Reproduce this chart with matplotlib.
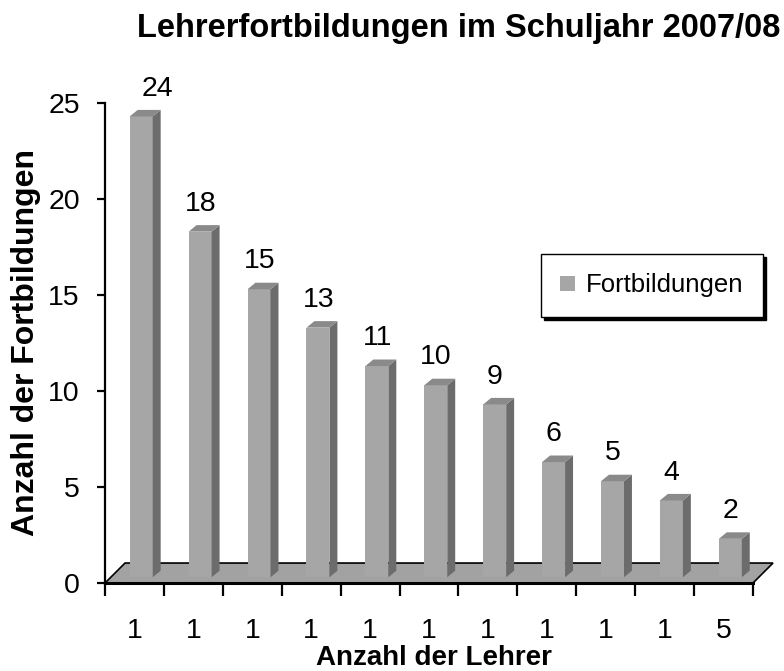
import matplotlib
matplotlib.use('Agg')
import matplotlib.pyplot as plt
from matplotlib.patches import Polygon

plt.rcParams['font.family'] = ['Liberation Sans', 'DejaVu Sans']

# Daten
lehrer = ['1', '1', '1', '1', '1', '1', '1', '1', '1', '1', '5']
fortbildungen = [24, 18, 15, 13, 11, 10, 9, 6, 5, 4, 2]
label_dx = [0.89, 0.62, 0.62, 0.62, 0.62, 0.62, 0.62, 0.62, 0.62, 0.62, 0.62]

front = '#a6a6a6'
side = '#6c6c6c'
top = '#8a8a8a'

fig = plt.figure(figsize=(7.84, 6.71), dpi=100)
ax = fig.add_axes([105/784, 1 - 583/671, 648/784, 480/671])
ax.set_xlim(0, 11)
ax.set_ylim(0, 25)

# Boden (3D-Effekt)
fdx, fdy = 0.34, 1.04
floor = Polygon([(0, 0), (11, 0), (11 + fdx, fdy), (fdx, fdy)], closed=True,
                facecolor='#a2a2a2', edgecolor='black', linewidth=1.2,
                clip_on=False, zorder=1)
ax.add_patch(floor)

# Balken
n = len(fortbildungen)
x0 = [i + 0.42 for i in range(n)]
w = 0.39
base = 0.3
dx, dy = 0.135, 0.34
bars = ax.bar(x0, fortbildungen, width=w, bottom=base, align='edge',
              color=front, edgecolor='none', zorder=3, label='Fortbildungen')
for xi, v in zip(x0, fortbildungen):
    t = base + v
    ax.add_patch(Polygon([(xi + w, base), (xi + w + dx, base + dy),
                          (xi + w + dx, t + dy), (xi + w, t)],
                         facecolor=side, edgecolor='none', zorder=3))
    ax.add_patch(Polygon([(xi, t), (xi + dx, t + dy), (xi + w + dx, t + dy),
                          (xi + w, t)],
                         facecolor=top, edgecolor='none', zorder=3))

# Werte über den Balken
for i, v in enumerate(fortbildungen):
    ax.text(i + label_dx[i], v + 1.75, str(v), ha='center', va='center',
            fontsize=20.5, zorder=5)

# Achsen
for s in ['top', 'right']:
    ax.spines[s].set_visible(False)
ax.spines['left'].set_linewidth(1.6)
ax.spines['bottom'].set_linewidth(2.2)
ax.spines['bottom'].set_zorder(2)
ax.set_yticks(range(0, 26, 5))
ax.tick_params(axis='y', length=6, width=1.6, pad=12, labelsize=20.5)
ax.set_xticks(range(0, 12))
ax.set_xticklabels([])
ax.tick_params(axis='x', which='major', length=9, width=1.6)
ax.set_xticks([i + 0.5 for i in range(n)], minor=True)
ax.set_xticklabels(lehrer, minor=True)
ax.tick_params(axis='x', which='minor', length=0, pad=25, labelsize=20.5)

ax.set_ylabel('Anzahl der Fortbildungen', fontsize=23, fontweight='bold',
              va='center')
ax.yaxis.set_label_coords(-0.122, 0.5)
ax.set_xlabel('Anzahl der Lehrer', fontsize=20, fontweight='bold', va='center')
ax.xaxis.set_label_coords(0.508, -0.156)

fig.text(0.585, 0.957, 'Lehrerfortbildungen im Schuljahr 2007/08',
         ha='center', va='center', fontsize=23.5, fontweight='bold')

leg = ax.legend(handles=[bars], loc='upper left', bbox_to_anchor=(0.673, 0.685),
                fontsize=18.5, frameon=True, fancybox=False, handlelength=0.55,
                handleheight=0.55, handletextpad=0.45, borderpad=0.75,
                borderaxespad=0, shadow={'color': 'black', 'alpha': 1})
leg.get_frame().set_edgecolor('black')
leg.get_frame().set_linewidth(1.0)

fig.savefig('out.png', dpi=100)
